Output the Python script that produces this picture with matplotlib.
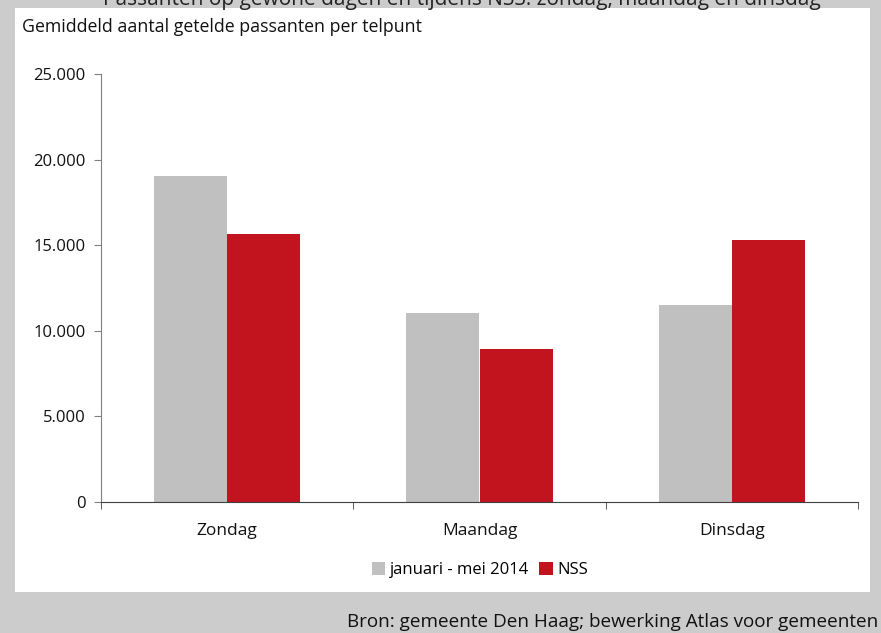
import matplotlib
matplotlib.use("Agg")
import matplotlib.pyplot as plt
import numpy as np

categories = ["Zondag", "Maandag", "Dinsdag"]
series_names = ["januari - mei 2014", "NSS"]
jan_mei_2014 = [19050, 11050, 11500]
nss = [15650, 8950, 15300]
yticks = [0, 5000, 10000, 15000, 20000, 25000]
ytick_labels = ["0", "5.000", "10.000", "15.000", "20.000", "25.000"]

FONT = "Open Sans"
plt.rcParams["font.family"] = [FONT, "DejaVu Sans"]

W, H = 881, 633
fig = plt.figure(figsize=(W / 100, H / 100), dpi=100)
fig.patch.set_facecolor("#cccccc")

# white panel
bg = fig.add_axes([15 / W, (H - 592) / H, (870 - 15) / W, (592 - 8) / H], zorder=0)
bg.set_facecolor("white")
bg.set_xticks([])
bg.set_yticks([])
for s in bg.spines.values():
    s.set_visible(False)

# title, cut off at the top edge as in the reference
fig.text(462 / W, 1 - 4.5 / H, "Passanten op gewone dagen en tijdens NSS: zondag, maandag en dinsdag",
         ha="center", va="baseline", fontsize=15, color="#222222")

ax = fig.add_axes([101 / W, (H - 502) / H, (858 - 101) / W, (502 - 74) / H], zorder=2)
ax.set_facecolor("none")

x = np.arange(len(categories))
bw = 0.29
ax.bar(x - bw / 2, jan_mei_2014, width=bw, color="#c0c0c0", label=series_names[0])
ax.bar(x + bw / 2, nss, width=bw, color="#c1141f", label=series_names[1])

ax.set_xlim(-0.5, len(categories) - 0.5)
ax.set_ylim(0, 25000)
ax.set_yticks(yticks)
ax.set_yticklabels(ytick_labels)
ax.set_xticks(x)
ax.set_xticklabels(categories)
ax.set_xticks(np.arange(-0.5, len(categories), 1.0), minor=True)

for s in ["top", "right"]:
    ax.spines[s].set_visible(False)
ax.spines["left"].set_color("#808080")
ax.spines["bottom"].set_color("#404040")
ax.tick_params(axis="y", length=5, color="#808080", labelsize=12, pad=6, labelcolor="#111111")
ax.tick_params(axis="x", which="major", length=0, labelsize=12.5, pad=15, labelcolor="#111111")
ax.tick_params(axis="x", which="minor", length=5, color="#404040", direction="out")

fig.text(22 / W, 1 - 27 / H, "Gemiddeld aantal getelde passanten per telpunt",
         ha="left", va="center", fontsize=12.8, color="#111111")

leg = ax.legend(loc="center", bbox_to_anchor=(480 / W, 1 - 570 / H),
                bbox_transform=fig.transFigure, ncol=2, frameon=False,
                fontsize=12, handlelength=0.8, handleheight=0.8,
                handletextpad=0.3, columnspacing=0.6)

fig.text(878 / W, 1 - 622 / H, "Bron: gemeente Den Haag; bewerking Atlas voor gemeenten",
         ha="right", va="center", fontsize=13.6, color="#111111")

fig.savefig("out.png", dpi=100, facecolor=fig.get_facecolor())
